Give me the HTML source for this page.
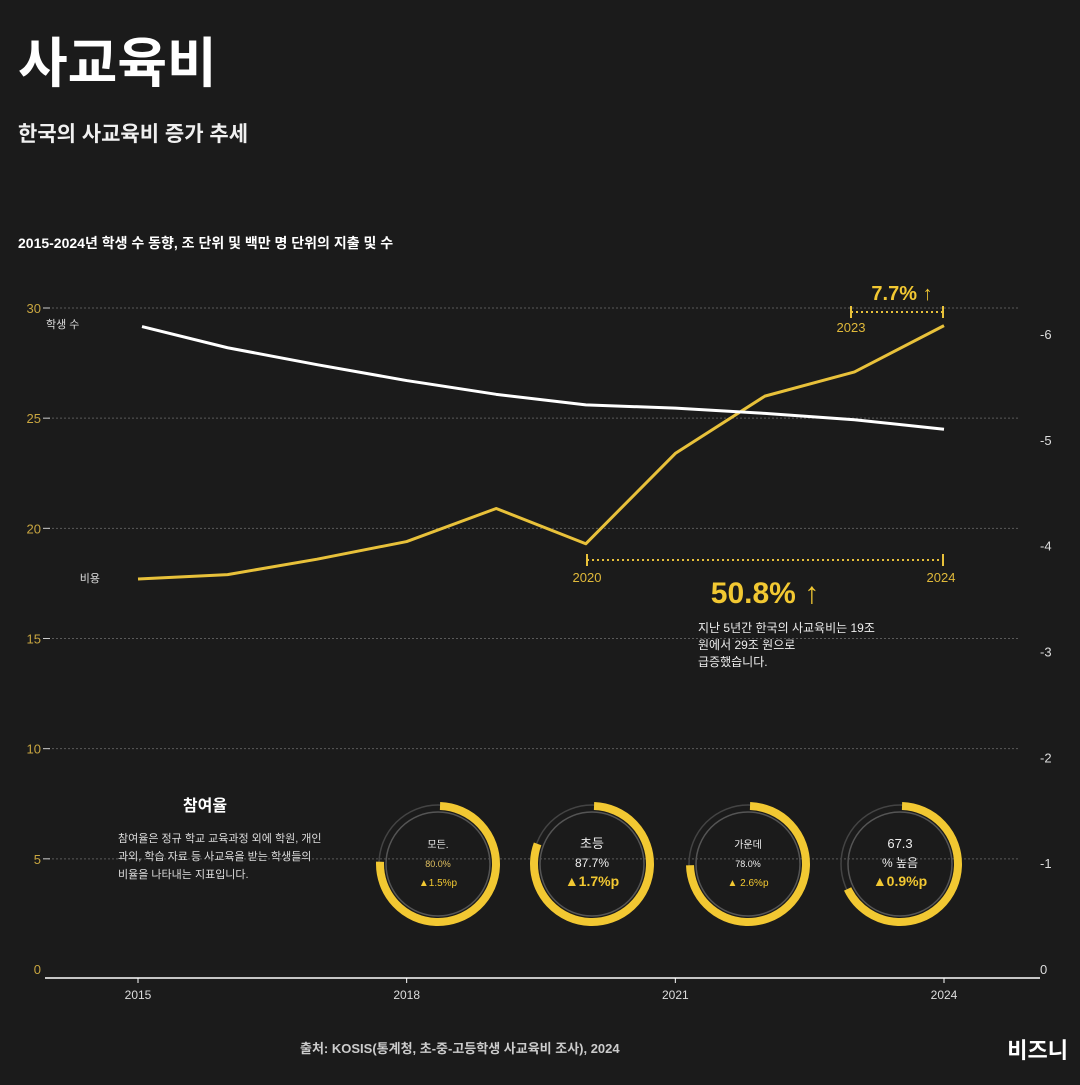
<!DOCTYPE html>
<html><head><meta charset="utf-8">
<style>
html,body{margin:0;padding:0;background:#1b1b1b;}
body{width:1080px;height:1080px;overflow:hidden;font-family:"Liberation Sans","Noto Sans CJK KR",sans-serif;}
svg text{font-family:"Liberation Sans","Noto Sans CJK KR",sans-serif;}
</style></head>
<body>
<svg id="chart" width="1080" height="1080" viewBox="0 0 1080 1080">
<rect width="1080" height="1080" fill="#1b1b1b"/>
<text x="18" y="82" font-size="54" font-weight="bold" fill="#ffffff">사교육비</text>
<text x="18" y="141" font-size="21" font-weight="bold" fill="#f0f0f0">한국의 사교육비 증가 추세</text>
<text x="18" y="248" font-size="14" font-weight="bold" fill="#ffffff">2015-2024년 학생 수 동향, 조 단위 및 백만 명 단위의 지출 및 수</text>
<g id="grid"></g>
<g id="axes"></g>
<g id="lines"></g>
<g id="annot">
<text x="100" y="582" font-size="11" fill="#dddddd" text-anchor="end">비용</text>
<text x="46" y="328" font-size="11" fill="#dddddd">학생 수</text>
<line x1="587" y1="560" x2="943" y2="560" stroke="#e8c13a" stroke-width="2" stroke-dasharray="2,3"/>
<line x1="587" y1="554" x2="587" y2="566" stroke="#e8c13a" stroke-width="2"/>
<line x1="943" y1="554" x2="943" y2="566" stroke="#e8c13a" stroke-width="2"/>
<text x="587" y="582" font-size="13" fill="#e0b93a" text-anchor="middle">2020</text>
<text x="941" y="582" font-size="13" fill="#e0b93a" text-anchor="middle">2024</text>
<text x="765" y="603" font-size="30" font-weight="bold" fill="#f2c832" text-anchor="middle">50.8% ↑</text>
<text x="698" y="632" font-size="12" fill="#eeeeee">지난 5년간 한국의 사교육비는 19조</text>
<text x="698" y="649" font-size="12" fill="#eeeeee">원에서 29조 원으로</text>
<text x="698" y="666" font-size="12" fill="#eeeeee">급증했습니다.</text>
<line x1="851" y1="312" x2="943" y2="312" stroke="#e8c13a" stroke-width="2" stroke-dasharray="2,3"/>
<line x1="851" y1="306" x2="851" y2="318" stroke="#e8c13a" stroke-width="2"/>
<line x1="943" y1="306" x2="943" y2="318" stroke="#e8c13a" stroke-width="2"/>
<text x="851" y="332" font-size="13" fill="#e0b93a" text-anchor="middle">2023</text>
<text x="902" y="300" font-size="20" font-weight="bold" fill="#f2c832" text-anchor="middle">7.7% ↑</text>
<text x="205" y="811" font-size="16" font-weight="bold" fill="#ffffff" text-anchor="middle">참여율</text>
<text x="118" y="842" font-size="11" fill="#dddddd">참여율은 정규 학교 교육과정 외에 학원, 개인</text>
<text x="118" y="860" font-size="11" fill="#dddddd">과외, 학습 자료 등 사교육을 받는 학생들의</text>
<text x="118" y="878" font-size="11" fill="#dddddd">비율을 나타내는 지표입니다.</text>
<text x="300" y="1053" font-size="13" font-weight="bold" fill="#cccccc">출처: KOSIS(통계청, 초-중-고등학생 사교육비 조사), 2024</text>
<text x="1068" y="1058" font-size="22" font-weight="bold" fill="#ffffff" text-anchor="end">비즈니</text>
</g>
<g id="donuts"></g>
</svg>
<script>
const years = [2015,2016,2017,2018,2019,2020,2021,2022,2023,2024];
const costValues = [17.7,17.9,18.6,19.4,20.9,19.3,23.4,26.0,27.1,29.2];
const studentValues = [6.07,5.87,5.71,5.56,5.43,5.33,5.30,5.25,5.19,5.10];
const leftTicks = [0,5,10,15,20,25,30];
const rightTicks = [0,1,2,3,4,5,6];
const xTickYears = [2015,2018,2021,2024];
const donutLabels = ["모든.","초등","가운데","67.3"];
const donutSubLabels = ["80.0%","87.7%","78.0%","% 높음"];
const donutChange = ["▲1.5%p","▲1.7%p","▲ 2.6%p","▲0.9%p"];
const donutPercents = [75.0,80.0,74.0,67.3];

const NS="http://www.w3.org/2000/svg";
function X(y){return 138+(y-2015)*(944-138)/9;}
function YL(v){return 969-v*(969-308)/30;}
function YR(v){return 969-v*(969-334)/6;}
function mk(tag,attrs,parent){const e=document.createElementNS(NS,tag);for(const k in attrs)e.setAttribute(k,attrs[k]);parent.appendChild(e);return e;}
const grid=document.getElementById('grid'),axes=document.getElementById('axes'),lines=document.getElementById('lines'),donuts=document.getElementById('donuts');

leftTicks.forEach(t=>{
  if(t>0){
    const g=mk('line',{x1:48,x2:1020,y1:YL(t),y2:YL(t),stroke:'#5a5a5a','stroke-width':1,'stroke-dasharray':'2,2'},grid);
    
    
    mk('line',{x1:43,x2:50,y1:YL(t),y2:YL(t),stroke:'#ccc','stroke-width':1},grid);
  }
  const tx=mk('text',{x:41,y:YL(t)+5,'font-size':13,fill:'#c9a640','text-anchor':'end'},axes);
  tx.textContent=t;
  
  
});
rightTicks.forEach(t=>{
  const tx=mk('text',{x:1040,y:YR(t)+5,'font-size':13,fill:'#dddddd'},axes);
  tx.textContent=t===0?'0':'-'+t;
  
  
});
const base=mk('line',{x1:45,x2:1040,y1:978,y2:978,stroke:'#ffffff','stroke-width':1.5},axes);


xTickYears.forEach(y=>{
  mk('line',{x1:X(y),x2:X(y),y1:978,y2:983,stroke:'#fff'},axes);
  const tx=mk('text',{x:X(y),y:999,'font-size':12,fill:'#dddddd','text-anchor':'middle'},axes);
  tx.textContent=y;
  
  
});
const cp=mk('polyline',{points:years.map((y,i)=>X(y)+','+YL(costValues[i])).join(' '),fill:'none',stroke:'#e8c13a','stroke-width':3,'stroke-linejoin':'round'},lines);


const sp=mk('polyline',{points:years.map((y,i)=>(i===0?X(y)+4:X(y))+','+YR(studentValues[i])).join(' '),fill:'none',stroke:'#ffffff','stroke-width':3,'stroke-linejoin':'round'},lines);



const cx0=[438,592,748,900];
donutPercents.forEach((p,i)=>{
  const g=mk('g',{},donuts);
  
  
  const cx=cx0[i],cy=864,r=58;
  mk('circle',{cx,cy,r:r-6,fill:'none',stroke:'#555','stroke-width':1.5},g);
  mk('circle',{cx,cy,r:r+1,fill:'none',stroke:'#444','stroke-width':1.5},g);
  const C=2*Math.PI*r;
  mk('circle',{cx,cy,r,fill:'none',stroke:'#f2c832','stroke-width':8,'stroke-dasharray':(C*p/100)+' '+C,transform:`rotate(-88 ${cx} ${cy})`},g);
  const big=i===1||i===3;
  const a=mk('text',{x:cx,y:cy-16,'font-size':big?13:10,fill:'#eeeeee','text-anchor':'middle'},g);a.textContent=donutLabels[i];
  const b=mk('text',{x:cx,y:cy+3,'font-size':big?12:9,fill:i===0?'#e0c060':'#eeeeee','text-anchor':'middle'},g);b.textContent=donutSubLabels[i];
  const c=mk('text',{x:cx,y:cy+22,'font-size':big?14:10,'font-weight':big?'bold':'normal',fill:'#f2c832','text-anchor':'middle'},g);c.textContent=donutChange[i];
});
</script>
</body></html>
